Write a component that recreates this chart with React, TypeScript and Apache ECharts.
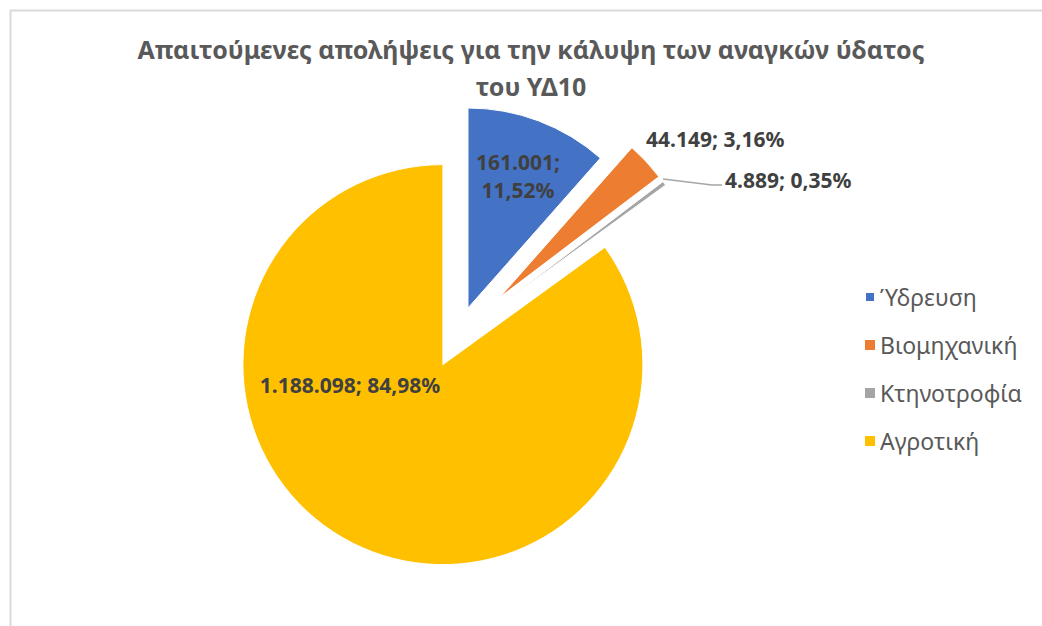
import React, { useEffect, useRef } from "react";
import * as echarts from "echarts";

const categories = ["Ύδρευση", "Βιομηχανική", "Κτηνοτροφία", "Αγροτική"];
const values = [161001, 44149, 4889, 1188098];
const colors = ["#4472C4", "#ED7D31", "#A5A5A5", "#FFC000"];
const explodeOffsets = [31, 58, 58, 31];
const titleLines = [
  "Απαιτούμενες απολήψεις για την κάλυψη των αναγκών ύδατος",
  "του ΥΔ10",
];

const FONT = '"Noto Sans", "DejaVu Sans", sans-serif';

const total = values.reduce((a, b) => a + b, 0);
function fmtInt(v: number): string {
  return String(v).replace(/\B(?=(\d{3})+(?!\d))/g, ".");
}
function fmtPct(v: number): string {
  return (v / total * 100).toFixed(2).replace(".", ",") + "%";
}

const CENTER = [457, 337];
const RADIUS = 200;

// exploded center for each slice, derived from the slice's mid angle
function sliceCenter(i: number): number[] {
  let before = 0;
  for (let k = 0; k < i; k++) before += values[k];
  const mid = ((before + values[i] / 2) / total) * Math.PI * 2;
  const d = explodeOffsets[i];
  return [CENTER[0] + d * Math.sin(mid), CENTER[1] - d * Math.cos(mid)];
}

const labelSpots: any[] = [
  { x: 518, y: 176, align: "center", verticalAlign: "middle" },
  { x: 646, y: 139, align: "left", verticalAlign: "middle" },
  {
    x: 725, y: 180, align: "left", verticalAlign: "middle",
    labelLinePoints: [[663, 179], [712, 185], [722, 185]],
  },
  { x: 350, y: 385, align: "center", verticalAlign: "middle" },
];
const labelPositions = ["inside", "outside", "outside", "inside"];

function makeSeries(idx: number) {
  return {
    type: "pie",
    center: sliceCenter(idx),
    radius: RADIUS,
    startAngle: 90,
    clockwise: true,
    avoidLabelOverlap: false,
    emphasis: { disabled: true },
    z: 2,
    label: {
      fontFamily: FONT,
      fontWeight: "bold",
      fontSize: 21,
      lineHeight: 28,
      color: "#404040",
      formatter: (p: any) =>
        p.dataIndex === 0
          ? fmtInt(p.value) + ";\n" + fmtPct(p.value)
          : fmtInt(p.value) + "; " + fmtPct(p.value),
    },
    labelLine: { lineStyle: { color: "#A6A6A6", width: 1.5 } },
    labelLayout: (p: any) => labelSpots[p.dataIndex],
    data: categories.map((name, i) => {
      const on = i === idx;
      return {
        name,
        value: values[i],
        itemStyle: on
          ? { color: colors[i], borderColor: "#ffffff", borderWidth: 1 }
          : { color: "rgba(0,0,0,0)", borderWidth: 0 },
        label: { show: on, position: labelPositions[i] },
        labelLine: { show: on && i === 2, length: 5, length2: 40 },
      };
    }),
  };
}

export default function App() {
  const ref = useRef<HTMLDivElement>(null);
  useEffect(() => {
    if (!ref.current) return;
    const chart = echarts.init(ref.current, undefined, { renderer: "svg" });
    chart.setOption({
      animation: false,
      backgroundColor: "#ffffff",
      textStyle: { fontFamily: FONT },
      graphic: [
        {
          type: "rect",
          shape: { x: 10.5, y: 10.5, width: 1200, height: 800 },
          style: { fill: "none", stroke: "#D9D9D9", lineWidth: 2 },
          silent: true,
        },
        {
          type: "text",
          x: 531,
          y: 67,
          style: {
            text: titleLines.join("\n"),
            textAlign: "center",
            textVerticalAlign: "middle",
            fontFamily: FONT,
            fontWeight: "bold",
            fontSize: 25,
            lineHeight: 37,
            fill: "#595959",
          },
          silent: true,
        },
      ],
      legend: {
        orient: "vertical",
        left: 859,
        top: 280,
        itemWidth: 10,
        itemHeight: 10,
        itemGap: 24,
        icon: "rect",
        selectedMode: false,
        textStyle: { fontFamily: FONT, fontSize: 23, lineHeight: 24, color: "#595959" },
        data: categories.map((name, i) => ({ name, itemStyle: { color: colors[i] } })),
      },
      series: categories.map((_, i) => makeSeries(i)),
    });
    return () => chart.dispose();
  }, []);
  return (
    <div
      ref={ref}
      style={{ position: "fixed", left: 0, top: 0, width: 1042, height: 626, background: "#fff" }}
    />
  );
}
